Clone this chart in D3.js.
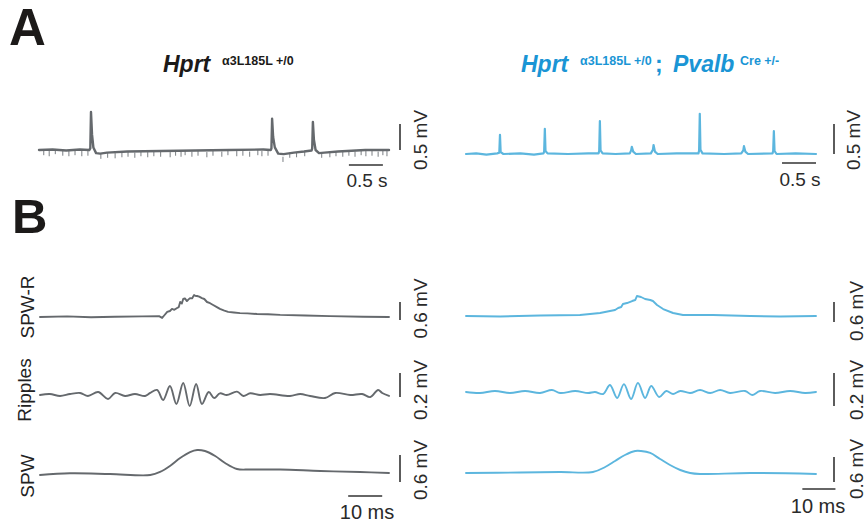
<!DOCTYPE html>
<html><head><meta charset="utf-8">
<script src="https://cdn.jsdelivr.net/npm/d3@7"></script>
<style>
html,body{margin:0;padding:0;background:#fff;}
svg{display:block;font-family:"Liberation Sans",Arial,sans-serif;}
</style></head>
<body><svg id="c" width="866" height="529"></svg>
<script>
// ---------- DATA ----------
const panelLetters = ["A", "B"];
const rowLabels = ["SPW-R", "Ripples", "SPW"];
const topBarLabels = ["0.5 mV", "0.5 s"];
const bRowBarLabels = ["0.6 mV", "0.2 mV", "0.6 mV"];
const bTimeBarLabel = "10 ms";
const bRowBarValues = [0.6, 0.2, 0.6]; // mV

// Panel A, control (gray): [time s, mV]
const topLeftTrace = [[0,0],[0.2,0.01],[0.4,-0.01],[0.6,0.01],[0.74,0],[0.755,0.03],[0.765,0.73],[0.78,0.3],[0.80,0.05],[0.84,-0.06],[0.9,-0.07],[1.0,-0.05],[1.3,-0.03],[1.8,-0.02],[2.3,-0.01],[2.8,0],[3.3,0.01],[3.41,0],[3.42,0.03],[3.43,0.6],[3.445,0.25],[3.47,0.05],[3.52,-0.07],[3.6,-0.08],[3.75,-0.05],[3.9,-0.03],[4.01,-0.01],[4.02,0.03],[4.03,0.54],[4.045,0.2],[4.07,0.0],[4.12,-0.06],[4.2,-0.05],[4.4,-0.03],[4.8,0],[5.15,0]];
// downward deflections: [time s, lowest mV]
const topLeftTicks = [[0.07,-0.12],[0.15,-0.14],[0.24,-0.10],[0.35,-0.13],[0.44,-0.14],[0.53,-0.12],[0.63,-0.14],[0.72,-0.13],
[0.91,-0.19],[1.01,-0.17],[1.12,-0.18],[1.22,-0.16],[1.31,-0.15],[1.41,-0.17],[1.50,-0.14],[1.60,-0.16],[1.69,-0.14],[1.79,-0.15],[1.93,-0.16],[2.01,-0.13],[2.09,-0.15],[2.15,-0.12],[2.25,-0.15],[2.34,-0.13],[2.47,-0.16],[2.56,-0.13],[2.69,-0.15],[2.78,-0.12],[2.91,-0.14],[3.00,-0.13],[3.10,-0.15],[3.22,-0.12],[3.28,-0.14],[3.37,-0.13],
[3.59,-0.25],[3.69,-0.17],[3.79,-0.16],[3.91,-0.14],
[4.16,-0.17],[4.28,-0.16],[4.37,-0.14],[4.47,-0.15],[4.56,-0.13],[4.65,-0.15],[4.74,-0.12],[4.81,-0.14],[4.90,-0.13],[4.99,-0.15],[5.06,-0.12],[5.12,-0.14]];

// Panel A, Pvalb (blue): [time s, mV]
const topRightTrace = [[0,0],[0.15,0.01],[0.3,-0.01],[0.46,0.01],[0.49,0.02],[0.50,0.32],[0.51,0.03],[0.55,0],[0.8,0.01],[1.0,-0.01],[1.14,0.01],[1.15,0.04],[1.16,0.42],[1.17,0.05],[1.2,0.01],[1.5,0],[1.8,0.01],[1.95,0.01],[1.96,0.05],[1.97,0.55],[1.98,0.06],[2.01,0.01],[2.2,0],[2.41,0.01],[2.43,0.06],[2.44,0.12],[2.46,0.04],[2.5,0],[2.72,0.01],[2.75,0.07],[2.76,0.15],[2.78,0.04],[2.82,0],[3.1,0.01],[3.42,0.01],[3.43,0.06],[3.44,0.67],[3.45,0.07],[3.48,0.01],[3.8,0],[4.05,0.01],[4.08,0.06],[4.09,0.13],[4.11,0.04],[4.15,0],[4.51,0.01],[4.52,0.05],[4.53,0.38],[4.54,0.05],[4.57,0],[4.85,0.01],[5.15,0]];

// Panel B, control (gray): [time ms, mV]
const leftSpwr = [[0,0],[8,0.02],[15,-0.01],[22,0.01],[30,0.02],[35,0.03],[35.9,-0.03],[36.5,0.05],[37.4,0.17],[38.2,0.2],[38.8,0.27],[39.5,0.24],[40.3,0.30],[40.8,0.33],[41.2,0.5],[41.7,0.45],[42.1,0.6],[42.6,0.62],[43.2,0.53],[43.6,0.58],[44.1,0.63],[44.7,0.62],[45.3,0.73],[45.8,0.7],[46.2,0.70],[46.8,0.68],[47.6,0.63],[48.3,0.6],[49.1,0.50],[50,0.46],[50.9,0.40],[52,0.33],[52.9,0.27],[54,0.22],[55.3,0.17],[57,0.15],[58.8,0.13],[61,0.12],[63.8,0.10],[67,0.09],[70.6,0.07],[78,0.05],[85.3,0.03],[95,0.01],[102.6,0]];
const leftRipples = [[0,0],[2.9,0.008],[5.9,-0.008],[8.8,0.008],[11.8,0.017],[14.1,-0.008],[17.1,0.025],[20,-0.033],[22.1,0.017],[25,-0.008],[27.9,0.008],[30.9,-0.008],[32.4,0.017],[34.4,0.042],[36.2,-0.042],[38.2,0.075],[40.1,-0.075],[42.1,0.1],[44,-0.092],[45.9,0.092],[47.6,-0.075],[49.6,0.025],[51.2,-0.025],[52.9,0.014],[54.9,0],[57.9,0.028],[59.8,-0.008],[61.8,0.014],[64.7,0],[67.6,0.008],[73.5,-0.008],[76.5,0.008],[79.4,-0.008],[83.8,-0.025],[86.8,0.017],[91.2,0],[94.7,0.008],[97.1,-0.017],[99.4,0.042],[100.6,0.017],[102.6,-0.008]];
const leftSpw = [[0,0],[8.8,0.038],[20.6,0.022],[32.4,0],[35.3,0.067],[38.2,0.2],[41.2,0.378],[44.1,0.511],[46.2,0.556],[48.5,0.533],[51.5,0.422],[54.4,0.267],[57.9,0.133],[61.8,0.122],[70.6,0.122],[82.4,0.089],[94.1,0.067],[102.6,0.044]];

// Panel B, Pvalb (blue): [time ms, mV]
const rightSpwr = [[0,0],[10,-0.015],[21.7,0.015],[33.4,0.03],[39.3,0.09],[42.2,0.15],[43.7,0.18],[44.6,0.24],[45.5,0.27],[46,0.36],[47.2,0.39],[48.7,0.45],[49.6,0.48],[50.1,0.6],[51.3,0.57],[52.5,0.51],[54,0.48],[54.8,0.45],[56,0.33],[57.8,0.21],[60.7,0.09],[63.6,0.03],[72.4,0.03],[83.3,0],[92.1,-0.015],[102.6,0]];
const rightRipples = [[0,0],[4.1,-0.006],[8.5,0.006],[12.9,-0.006],[17.3,0.006],[21.7,-0.006],[25.2,0.012],[27.6,-0.006],[32,0.006],[35.8,-0.006],[37.8,0],[40.2,-0.012],[42.2,0.042],[44.3,-0.036],[46.3,0.048],[48.4,-0.042],[50.4,0.055],[52.5,-0.036],[54.3,0.036],[56.6,-0.03],[58.7,0.006],[60.7,-0.012],[62.8,0.006],[65.7,-0.006],[68.6,0.012],[71.6,-0.006],[74.5,0.012],[77.4,-0.006],[81.8,0.006],[83.9,-0.018],[86.2,0.006],[90.6,-0.006],[95,0.006],[99.4,-0.006],[102.6,0]];
const rightSpw = [[0,0],[15.8,0.012],[27.6,0.024],[37.2,0.024],[40.8,0.144],[43.7,0.288],[46.6,0.432],[49.6,0.528],[51.3,0.528],[54,0.48],[56.9,0.336],[59.8,0.192],[62.8,0.072],[65.7,0],[68.6,-0.024],[83.3,0],[102.6,-0.024]];

// ---------- STYLE / LAYOUT ----------
const GRAY = "#65696d", BLUE = "#5cb6de", TITLEBLUE = "#1a95d5", INK = "#1c1a19", BAR = "#333";
const svg = d3.select("#c");

function trace(data, x, y, color, width, curve) {
  svg.append("path").datum(data)
    .attr("d", d3.line().x(d => x(d[0])).y(d => y(d[1])).curve(curve || d3.curveLinear))
    .attr("fill", "none").attr("stroke", color).attr("stroke-width", width)
    .attr("stroke-linejoin", "round").attr("stroke-linecap", "round");
}
function vbar(xp, y, v0, v1) {
  svg.append("line").attr("x1", xp).attr("x2", xp).attr("y1", y(v0)).attr("y2", y(v1))
    .attr("stroke", BAR).attr("stroke-width", 1.6);
}
function hbar(x, t0, t1, yp) {
  svg.append("line").attr("x1", x(t0)).attr("x2", x(t1)).attr("y1", yp).attr("y2", yp)
    .attr("stroke", BAR).attr("stroke-width", 1.6);
}
function vtext(txt, xp, yp, size, fill) {
  svg.append("text").attr("transform", `translate(${xp},${yp}) rotate(-90)`)
    .attr("text-anchor", "middle").attr("font-size", size).attr("fill", fill || "#2a2a2a").text(txt);
}
function htext(txt, xp, yp, size) {
  svg.append("text").attr("x", xp).attr("y", yp).attr("text-anchor", "middle")
    .attr("font-size", size).attr("fill", "#2a2a2a").text(txt);
}

// Panel letters
svg.append("text").attr("x", 9).attr("y", 45).attr("font-size", 51).attr("font-weight", "bold").attr("fill", INK).text(panelLetters[0]);
svg.append("text").attr("x", 12).attr("y", 233).attr("font-size", 49).attr("font-weight", "bold").attr("fill", INK).text(panelLetters[1]);

// Titles
function title(parts, color) {
  const t = svg.append("text").attr("fill", color).attr("font-weight", "bold");
  parts.forEach(p => {
    t.append("tspan").attr("x", p[1]).attr("y", p[2]).attr("font-size", p[3])
      .attr("font-style", p[4] ? "italic" : "normal").text(p[0]);
  });
}
title([["Hprt", 163, 72, 23, true], ["\u03b13L185L +/0", 222, 65, 12.5, false]], INK);
title([["Hprt", 521, 72, 23, true], ["\u03b13L185L +/0", 580, 65, 12.5, false], [";", 655, 72, 23, false],
       ["Pvalb", 673, 72, 23, true], ["Cre +/-", 740, 65, 12.5, false]], TITLEBLUE);

// ---------- PANEL A ----------
const xAL = d3.scaleLinear().domain([0, 5.15]).range([39, 389]);
const yAL = d3.scaleLinear().domain([0, 0.5]).range([150, 124]);
svg.append("g").selectAll("line").data(topLeftTicks).join("line")
  .attr("x1", d => xAL(d[0])).attr("x2", d => xAL(d[0]))
  .attr("y1", d => yAL(d[1] + 0.02)).attr("y2", d => yAL(d[1] + 0.12))
  .attr("stroke", "#7a7e82").attr("stroke-width", 1.0);
trace(topLeftTrace, xAL, yAL, GRAY, 2.4);
vbar(400, yAL, 0, 0.5);
hbar(xAL, 4.56, 5.06, 165);
vtext(topBarLabels[0], 427, 140, 19);
htext(topBarLabels[1], 367, 187, 19);

const xAR = d3.scaleLinear().domain([0, 5.15]).range([466, 816]);
const yAR = d3.scaleLinear().domain([0, 0.5]).range([154, 124]);
trace(topRightTrace, xAR, yAR, BLUE, 2.2);
vbar(834, yAR, 0, 0.5);
hbar(xAR, 4.65, 5.15, 163);
vtext(topBarLabels[0], 860, 140, 19);
htext(topBarLabels[1], 800, 186, 19);

// ---------- PANEL B ----------
const xBL = d3.scaleLinear().domain([0, 102.6]).range([40, 389]);
const xBR = d3.scaleLinear().domain([0, 102.6]).range([466, 816]);
// per-row: baseline px, px per mV, bar start (mV)
const rowsL = [
  {data: leftSpwr, base: 317, k: 30, b0: -0.1, curve: d3.curveLinear, lab: 308.5},
  {data: leftRipples, base: 395, k: 120, b0: -0.017, curve: d3.curveCatmullRom, lab: 390},
  {data: leftSpw, base: 475, k: 45, b0: -0.156, curve: d3.curveCatmullRom, lab: 470}];
const rowsR = [
  {data: rightSpwr, base: 316, k: 33.3, b0: -0.18, curve: d3.curveLinear, lab: 311},
  {data: rightRipples, base: 392, k: 165, b0: -0.085, curve: d3.curveCatmullRom, lab: 390},
  {data: rightSpw, base: 473, k: 41.7, b0: -0.216, curve: d3.curveCatmullRom, lab: 469}];
const rowLabelPos = [[34, 307], [31, 390], [34, 476]];

rowsL.forEach((r, i) => {
  const y = d3.scaleLinear().domain([0, 1]).range([r.base, r.base - r.k]);
  trace(r.data, xBL, y, GRAY, 1.9, r.curve);
  vbar(400, y, r.b0, r.b0 + bRowBarValues[i]);
  vtext(bRowBarLabels[i], 427, r.lab, 19);
  vtext(rowLabels[i], rowLabelPos[i][0], rowLabelPos[i][1], 19, "#222");
});
rowsR.forEach((r, i) => {
  const y = d3.scaleLinear().domain([0, 1]).range([r.base, r.base - r.k]);
  trace(r.data, xBR, y, BLUE, 1.9, r.curve);
  vbar(834, y, r.b0, r.b0 + bRowBarValues[i]);
  vtext(bRowBarLabels[i], 863, r.lab, 19);
});
hbar(xBL, 90.6, 100.6, 496);
htext(bTimeBarLabel, 367, 519, 20);
hbar(xBR, 98.6, 108.3, 489);
htext(bTimeBarLabel, 818, 513, 20);
</script></body></html>
